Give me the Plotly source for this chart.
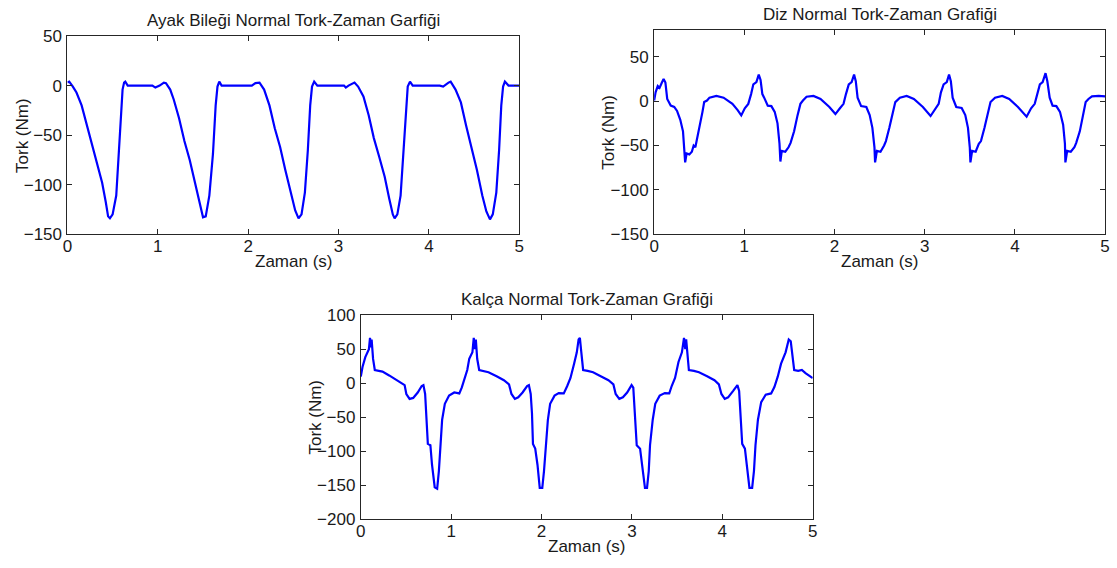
import plotly.graph_objects as go

# ---------------- data ----------------
# Ankle (Ayak Bileği)
t_ankle = [0, 0.02, 0.06, 0.10, 0.157, 0.216, 0.275, 0.333, 0.384, 0.424, 0.45, 0.47, 0.50, 0.54, 0.57, 0.59, 0.61, 0.627, 0.64, 0.667,
           0.94, 0.973, 1.02, 1.067, 1.09, 1.137, 1.176, 1.235, 1.294, 1.353, 1.412, 1.463, 1.50, 1.53, 1.57, 1.61, 1.64, 1.66, 1.68, 1.706,
           2.04, 2.08, 2.125, 2.176, 2.235, 2.294, 2.353, 2.41, 2.47, 2.52, 2.557, 2.59, 2.627, 2.66, 2.686, 2.706, 2.73, 2.765,
           3.06, 3.08, 3.11, 3.176, 3.216, 3.275, 3.333, 3.39, 3.45, 3.51, 3.56, 3.60, 3.62, 3.65, 3.686, 3.72, 3.745, 3.765, 3.79, 3.82,
           4.12, 4.157, 4.216, 4.24, 4.294, 4.353, 4.41, 4.47, 4.53, 4.59, 4.635, 4.675, 4.706, 4.745, 4.776, 4.80, 4.82, 4.84, 4.88, 5.0]
tork_ankle = [3, 4, -1, -7, -20, -40, -59, -79, -98, -117.5, -132, -134, -130, -111, -69, -30, -4, 3, 4, 0,
              0, -2, 0, 3, 2.5, -4, -14, -33, -56, -75, -98, -121, -133, -132, -111, -69, -20, -1, 4, 0,
              0, 2.5, 3, -4, -20, -43, -62, -85, -108, -126, -134, -130, -108, -65, -20, -1, 4, 0,
              0, -2, 0, 3, -1, -11, -30, -53, -72, -92, -114, -130, -134, -130, -111, -62, -20, -1, 4, 0,
              0, -1, 3, 4, -4, -17, -40, -62, -85, -111, -127, -135, -130, -108, -65, -20, -1, 4, 0, 0]

# Knee (Diz)
t_knee = [0, 0.016, 0.04, 0.06, 0.086, 0.105, 0.125, 0.145, 0.184, 0.223, 0.254, 0.29, 0.32, 0.34, 0.344, 0.36, 0.39, 0.418, 0.438, 0.457,
          0.496, 0.536, 0.555, 0.586, 0.614, 0.69, 0.77, 0.868, 0.926, 0.966, 1.005, 1.044, 1.075, 1.10, 1.134, 1.16, 1.18, 1.20, 1.22, 1.26,
          1.30, 1.337, 1.368, 1.39, 1.40, 1.415, 1.454, 1.49, 1.513, 1.552, 1.59, 1.622, 1.65, 1.69, 1.767, 1.845, 1.943, 2.01, 2.06, 2.10,
          2.127, 2.158, 2.19, 2.217, 2.236, 2.256, 2.295, 2.353, 2.39, 2.42, 2.443, 2.45, 2.47, 2.51, 2.55, 2.57, 2.608, 2.647, 2.674, 2.725,
          2.80, 2.88, 2.98, 3.065, 3.116, 3.155, 3.18, 3.21, 3.245, 3.27, 3.29, 3.31, 3.35, 3.41, 3.45, 3.48, 3.50, 3.507, 3.526, 3.565,
          3.60, 3.624, 3.663, 3.70, 3.73, 3.78, 3.86, 3.937, 4.034, 4.13, 4.18, 4.22, 4.25, 4.277, 4.308, 4.34, 4.36, 4.386, 4.418, 4.46,
          4.50, 4.535, 4.555, 4.56, 4.58, 4.62, 4.66, 4.68, 4.72, 4.76, 4.785, 4.816, 4.855, 4.93, 5.0]
tork_knee = [0.7, 10, 17, 15, 21, 25, 21, 2.5, -5, -6.5, -11, -21, -34, -56, -69, -59, -60, -57, -50, -52,
             -34, -12, -1, 0.7, 4, 6, 4, -3, -10, -16, -8, -3, 8, 19, 21.5, 30, 24, 8, 4, -5,
             -5.5, -12, -25, -48, -68, -56, -57, -52, -47, -34, -16, -3, 0.7, 5, 6, 2.5, -6.5, -14.5, -8, -3,
             8, 19, 21.5, 30, 22.5, 4, -5.5, -6.5, -15.6, -30, -52, -69, -56, -57, -50, -45, -30, -12, -1, 4,
             6, 2.5, -6.5, -16.7, -8, -3, 10, 19, 21.5, 30, 22.5, 4, -6.5, -7.6, -15.6, -30, -52, -69, -56, -57,
             -48, -45, -30, -12, -1, 4, 6, 2.5, -6.5, -17.5, -8, -3, 8, 19, 21.5, 31.6, 22.5, 4, -5, -5.5,
             -12, -26.5, -48, -69, -56, -57, -52, -47, -34, -16, -1, 2.5, 5.5, 6, 5.5]

# Hip (Kalça)
t_hip = [0, 0.019, 0.05, 0.076, 0.09, 0.102, 0.114, 0.12, 0.136, 0.155, 0.20, 0.24, 0.314, 0.39, 0.447, 0.485, 0.504, 0.54, 0.58, 0.63,
         0.674, 0.693, 0.712, 0.723, 0.742, 0.77, 0.788, 0.818, 0.845, 0.864, 0.883, 0.90, 0.93, 0.977, 1.034, 1.09, 1.117, 1.148, 1.178, 1.20,
         1.235, 1.25, 1.26, 1.273, 1.288, 1.31, 1.356, 1.413, 1.508, 1.583, 1.64, 1.667, 1.705, 1.742, 1.79, 1.84, 1.86, 1.88, 1.894, 1.905,
         1.93, 1.955, 1.98, 2.008, 2.027, 2.045, 2.07, 2.095, 2.144, 2.19, 2.246, 2.284, 2.32, 2.36, 2.39, 2.41, 2.424, 2.44, 2.46, 2.51,
         2.57, 2.66, 2.74, 2.795, 2.82, 2.86, 2.90, 2.947, 2.996, 3.015, 3.034, 3.053, 3.09, 3.117, 3.144, 3.167, 3.186, 3.20, 3.23, 3.258,
         3.307, 3.364, 3.413, 3.44, 3.477, 3.515, 3.553, 3.576, 3.59, 3.60, 3.614, 3.63, 3.686, 3.742, 3.837, 3.913, 3.962, 3.99, 4.027, 4.064,
         4.12, 4.167, 4.186, 4.20, 4.22, 4.25, 4.28, 4.30, 4.33, 4.35, 4.367, 4.394, 4.43, 4.48, 4.54, 4.576, 4.614, 4.65, 4.70, 4.735,
         4.757, 4.77, 4.795, 4.84, 4.88, 4.92, 5.0]
tork_hip = [10, 24, 38.6, 45.7, 50.4, 67, 53, 64.6, 36, 19.7, 18.3, 17.3, 11.7, 5.5, 0.8, -2.5, -15.6, -22.8, -21.4, -13.4,
            -3.9, -2.5, -15.6, -44, -89, -91, -119.7, -152.8, -155, -129, -91, -53.5, -30, -18, -13.4, -14.8, -6.3, 5.5, 19.7, 36.2,
            45.7, 67, 50.4, 64.6, 36.2, 19.7, 18.3, 16.4, 10.2, 4.6, -1.5, -15.6, -22.8, -20.5, -13.4, -3.9, -2.5, -15.6, -44, -89,
            -96, -119.7, -153.7, -153.7, -129, -91, -53.5, -30, -18, -14.3, -14.8, -3.9, 7.9, 29, 45.7, 64.6, 67, 45.7, 19.7, 18.3,
            16.4, 10.2, 4.6, -1.5, -15.6, -22.8, -20.5, -13.4, -2.5, -6.3, -44, -91, -96, -129, -153.7, -153.7, -129, -91, -53.5, -30,
            -18, -14.3, -14.8, -3.9, 7.9, 31.5, 45.7, 67, 50.4, 64.6, 36, 19.7, 18.3, 16.4, 10.2, 4.6, -1.5, -15.6, -22.8, -20.5,
            -11, -2.5, -11, -44, -89, -96, -129, -153.7, -153.7, -129, -91, -53.5, -27.6, -16.7, -14.8, -5.3, 10.2, 29, 45.7, 64.6,
            62, 45.7, 19.7, 18.3, 19.7, 15, 7.9]

titles = ["Ayak Bileği Normal Tork-Zaman Garfiği", "Diz Normal Tork-Zaman Grafiği", "Kalça Normal Tork-Zaman Grafiği"]
x_label = "Zaman (s)"
y_label = "Tork (Nm)"
x_ticks = [0, 1, 2, 3, 4, 5]
y_ticks_ankle = [-150, -100, -50, 0, 50]
y_ticks_knee = [-150, -100, -50, 0, 50]
y_ticks_hip = [-200, -150, -100, -50, 0, 50, 100]

# ---------------- layout helpers ----------------
W, H = 1117, 568
FONT = "Liberation Sans, Arial, Helvetica, sans-serif"
TXT = "#1a1a1a"


def px_x(p):
    return p / W


def px_y(p):
    return 1 - p / H


fig = go.Figure()
line = dict(color="#0000FF", width=2.2)
fig.add_trace(go.Scatter(x=t_ankle, y=tork_ankle, mode="lines", line=line, xaxis="x", yaxis="y", showlegend=False))
fig.add_trace(go.Scatter(x=t_knee, y=tork_knee, mode="lines", line=line, xaxis="x2", yaxis="y2", showlegend=False))
fig.add_trace(go.Scatter(x=t_hip, y=tork_hip, mode="lines", line=line, xaxis="x3", yaxis="y3", showlegend=False))

boxes = [  # left, right, top, bottom in pixels
    (63, 519, 28, 233),
    (655, 1110, 22, 233),
    (359, 815, 317, 528),
]
yranges = [[-150, 50], [-150, 80], [-200, 100]]
yticks = [y_ticks_ankle, y_ticks_knee, y_ticks_hip]

axis_common = dict(
    showline=True, linecolor="#262626", linewidth=1, mirror="ticks",
    ticks="inside", ticklen=5, tickcolor="#262626", tickwidth=1,
    showgrid=False, zeroline=False,
    tickfont=dict(family=FONT, size=17, color=TXT),
)

layout = dict(
    width=W, height=H, margin=dict(l=0, r=0, t=0, b=0),
    paper_bgcolor="white", plot_bgcolor="white",
    font=dict(family=FONT, size=17, color=TXT),
)
annotations = []
for i, (l, r, t, b) in enumerate(boxes):
    suffix = "" if i == 0 else str(i + 1)
    layout["xaxis" + suffix] = dict(
        axis_common, domain=[px_x(l), px_x(r)], range=[0, 5], tickvals=x_ticks,
        anchor="y" + suffix, ticklabelstandoff=-4,
    )
    layout["yaxis" + suffix] = dict(
        axis_common, domain=[px_y(b), px_y(t)], range=yranges[i], tickvals=yticks[i],
        anchor="x" + suffix, ticklabelstandoff=1,
    )
    cx = (l + r) / 2
    annotations.append(dict(text=titles[i], x=px_x(cx), y=px_y(t - 16), xref="paper", yref="paper",
                            showarrow=False, xanchor="center", yanchor="middle",
                            font=dict(family=FONT, size=17, color=TXT)))
    annotations.append(dict(text=x_label, x=px_x(cx), y=px_y(b + 28), xref="paper", yref="paper",
                            showarrow=False, xanchor="center", yanchor="middle",
                            font=dict(family=FONT, size=17, color=TXT)))
    annotations.append(dict(text=y_label, x=px_x(l - 46), y=px_y((t + b) / 2), xref="paper", yref="paper",
                            showarrow=False, xanchor="center", yanchor="middle", textangle=-90,
                            font=dict(family=FONT, size=17, color=TXT)))
layout["annotations"] = annotations
fig.update_layout(**layout)
fig.write_html("out.html")
